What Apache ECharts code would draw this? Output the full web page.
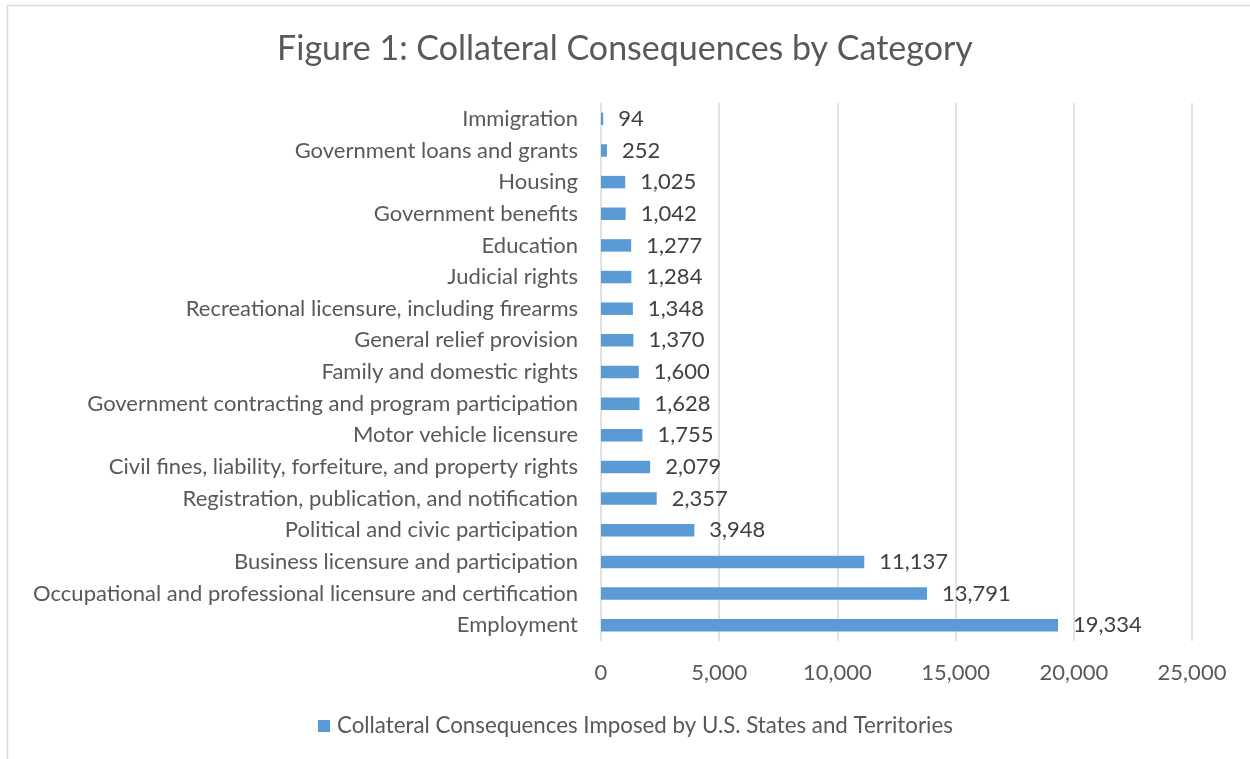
<!DOCTYPE html>
<html>
<head>
<meta charset="utf-8">
<script src="https://cdn.jsdelivr.net/npm/echarts@6/dist/echarts.min.js"></script>
<style>
html,body{margin:0;padding:0;background:#fff;}
#c{width:1250px;height:759px;}
</style>
</head>
<body>
<div id="c"></div>
<script>
const categories = [
  "Immigration",
  "Government loans and grants",
  "Housing",
  "Government benefits",
  "Education",
  "Judicial rights",
  "Recreational licensure, including firearms",
  "General relief provision",
  "Family and domestic rights",
  "Government contracting and program participation",
  "Motor vehicle licensure",
  "Civil fines, liability, forfeiture, and property rights",
  "Registration, publication, and notification",
  "Political and civic participation",
  "Business licensure and participation",
  "Occupational and professional licensure and certification",
  "Employment"
];
const values = [94, 252, 1025, 1042, 1277, 1284, 1348, 1370, 1600, 1628, 1755, 2079, 2357, 3948, 11137, 13791, 19334];
const seriesName = "Collateral Consequences Imposed by U.S. States and Territories";
const titleText = "Figure 1: Collateral Consequences by Category";

const FONT = "Lato";
const TXT = "#595959";
const FS = 22;
const chart = echarts.init(document.getElementById('c'), null, {renderer: 'canvas'});
const fmt = v => v.toLocaleString('en-US');
chart.setOption({
  animation: false,
  backgroundColor: '#fff',
  textStyle: {fontFamily: FONT, color: TXT},
  graphic: [{
    type: 'rect', silent: true,
    shape: {x: 7.5, y: 5.5, width: 1300, height: 800},
    style: {fill: 'none', stroke: '#D9D9D9', lineWidth: 1.5}
  }],
  title: {
    text: titleText, left: 'center', top: 27,
    textStyle: {fontFamily: FONT, fontSize: 34, fontWeight: 'normal', color: TXT}
  },
  legend: {
    bottom: 17, left: 313,
    itemWidth: 12, itemHeight: 12, itemGap: 5,
    icon: 'rect',
    textStyle: {fontFamily: FONT, fontSize: 22.3, color: TXT, padding: [0,0,0,2]},
    data: [seriesName]
  },
  grid: {left: 601, right: 58, top: 103, bottom: 118, containLabel: false},
  xAxis: {
    type: 'value', min: 0, max: 25000, interval: 5000,
    axisLine: {show: false}, axisTick: {show: false},
    splitLine: {show: true, lineStyle: {color: '#D9D9D9', width: 1.5}},
    axisLabel: {fontFamily: FONT, fontSize: FS, color: TXT, margin: 21, formatter: v => fmt(v)}
  },
  yAxis: {
    type: 'category', data: categories, inverse: true,
    axisLine: {show: false}, axisTick: {show: false},
    axisLabel: {fontFamily: FONT, fontSize: FS, color: TXT, margin: 23, padding: [3,0,0,0]}
  },
  series: [{
    name: seriesName, type: 'bar', data: values,
    barWidth: 12.5,
    itemStyle: {color: '#5B9BD5'},
    label: {show: true, position: 'right', distance: 15, fontFamily: FONT, fontSize: FS, color: '#404040',
      padding: [4,0,0,0], formatter: p => fmt(p.value)}
  }]
});
</script>
</body>
</html>
